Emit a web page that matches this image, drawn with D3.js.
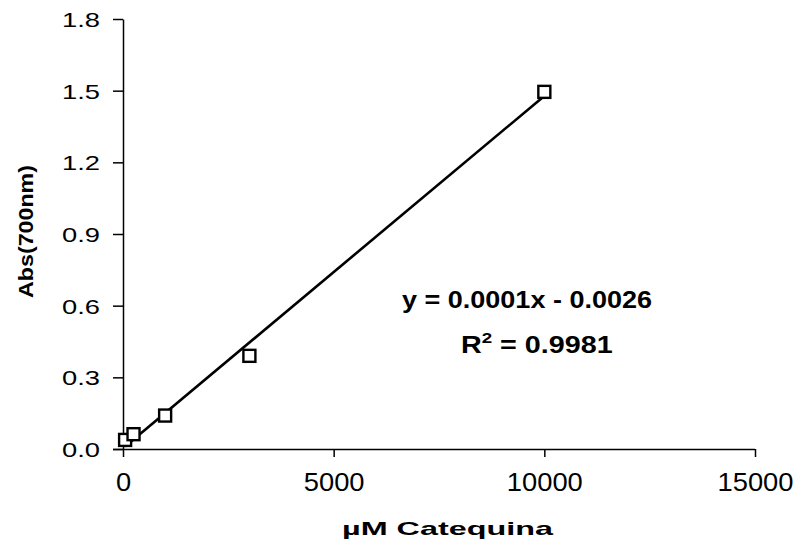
<!DOCTYPE html>
<html>
<head>
<meta charset="utf-8">
<script src="https://cdn.jsdelivr.net/npm/d3@7"></script>
<style>
  html, body { margin: 0; padding: 0; background: #fff; }
  text { font-family: "Liberation Sans", Arial, sans-serif; fill: #000; }
</style>
</head>
<body>
<div id="chart"></div>
<script>
// Data
const concentration = [50, 250, 1000, 3000, 10000];
const absorbance = [0.038, 0.062, 0.14, 0.39, 1.495];
const xTicks = [0, 5000, 10000, 15000];
const yTicks = [0, 0.3, 0.6, 0.9, 1.2, 1.5, 1.8];
const equationText = 'y = 0.0001x - 0.0026';
const r2Value = ' = 0.9981';

const width = 802, height = 545;

const svg = d3.select('#chart')
    .append('svg')
    .attr('width', width)
    .attr('height', height);

const x = d3.scaleLinear().domain([0, 15000]).range([123, 755]);
const y = d3.scaleLinear().domain([0, 1.8]).range([449, 19]);

// Y axis
const yAxis = svg.append('g')
    .attr('transform', `translate(${x(0)},0)`)
    .call(d3.axisLeft(y).tickValues(yTicks).tickFormat(d3.format('.1f')).tickSize(10).tickSizeOuter(0));
yAxis.select('.domain').attr('stroke-width', 1.5);
yAxis.selectAll('.tick line').attr('stroke-width', 1.5);
yAxis.selectAll('.tick text')
    .attr('x', -23)
    .attr('dy', '0.36em')
    .style('font-size', '21px')
    .attr('textLength', 38)
    .attr('lengthAdjust', 'spacingAndGlyphs');

// X axis
const xAxis = svg.append('g')
    .attr('transform', `translate(0,${y(0)})`)
    .call(d3.axisBottom(x).tickValues(xTicks).tickFormat(d3.format('d')).tickSize(8).tickSizeOuter(0));
xAxis.select('.domain').attr('d', `M${x(0) - 10},0.5H${x(15000)}`).attr('stroke-width', 1.5);
xAxis.selectAll('.tick line').attr('stroke-width', 1.5);
xAxis.selectAll('.tick text')
    .attr('y', 42)
    .attr('dy', 0)
    .style('font-size', '25px')
    .attr('textLength', d => String(d).length * 15.2)
    .attr('lengthAdjust', 'spacingAndGlyphs');

// Axis titles
svg.append('text')
    .attr('x', 342)
    .attr('y', 535)
    .style('font-size', '19px')
    .style('font-weight', 'bold')
    .attr('textLength', 211)
    .attr('lengthAdjust', 'spacingAndGlyphs')
    .text('µM Catequina');

svg.append('text')
    .attr('transform', 'translate(33,298) rotate(-90)')
    .style('font-size', '20px')
    .style('font-weight', 'bold')
    .attr('textLength', 133)
    .attr('lengthAdjust', 'spacingAndGlyphs')
    .text('Abs(700nm)');

// Linear trendline from least squares on the data
const mx = d3.mean(concentration), my = d3.mean(absorbance);
const sxy = d3.sum(concentration, (c, i) => (c - mx) * (absorbance[i] - my));
const sxx = d3.sum(concentration, c => (c - mx) * (c - mx));
const slope = sxy / sxx, intercept = my - slope * mx;
const xExtent = d3.extent(concentration);

svg.append('path')
    .datum(xExtent)
    .attr('fill', 'none')
    .attr('stroke', '#000')
    .attr('stroke-width', 2.6)
    .attr('d', d3.line().x(d => x(d)).y(d => y(slope * d + intercept)));

// Markers
svg.selectAll('rect.pt')
    .data(concentration)
    .enter()
    .append('rect')
    .attr('class', 'pt')
    .attr('x', d => x(d) - 6)
    .attr('y', (d, i) => y(absorbance[i]) - 6)
    .attr('width', 12)
    .attr('height', 12)
    .attr('fill', '#fff')
    .attr('stroke', '#000')
    .attr('stroke-width', 2.4);

// Equation labels
svg.append('text')
    .attr('x', 402)
    .attr('y', 308)
    .style('font-size', '23px')
    .style('font-weight', 'bold')
    .attr('textLength', 250)
    .attr('lengthAdjust', 'spacingAndGlyphs')
    .text(equationText);

const r2 = svg.append('text')
    .attr('x', 461)
    .attr('y', 353)
    .style('font-size', '23px')
    .style('font-weight', 'bold');
r2.append('tspan').text('R');
r2.append('tspan').attr('dy', -10).style('font-size', '15px').text('2');
r2.append('tspan').attr('dy', 10).text(r2Value);

// stretch the R² line to the width it has in the figure
const r2Width = r2.node().getBBox().width;
const k = 152 / r2Width;
r2.attr('transform', `translate(461,0) scale(${k},1) translate(-461,0)`);
</script>
</body>
</html>
